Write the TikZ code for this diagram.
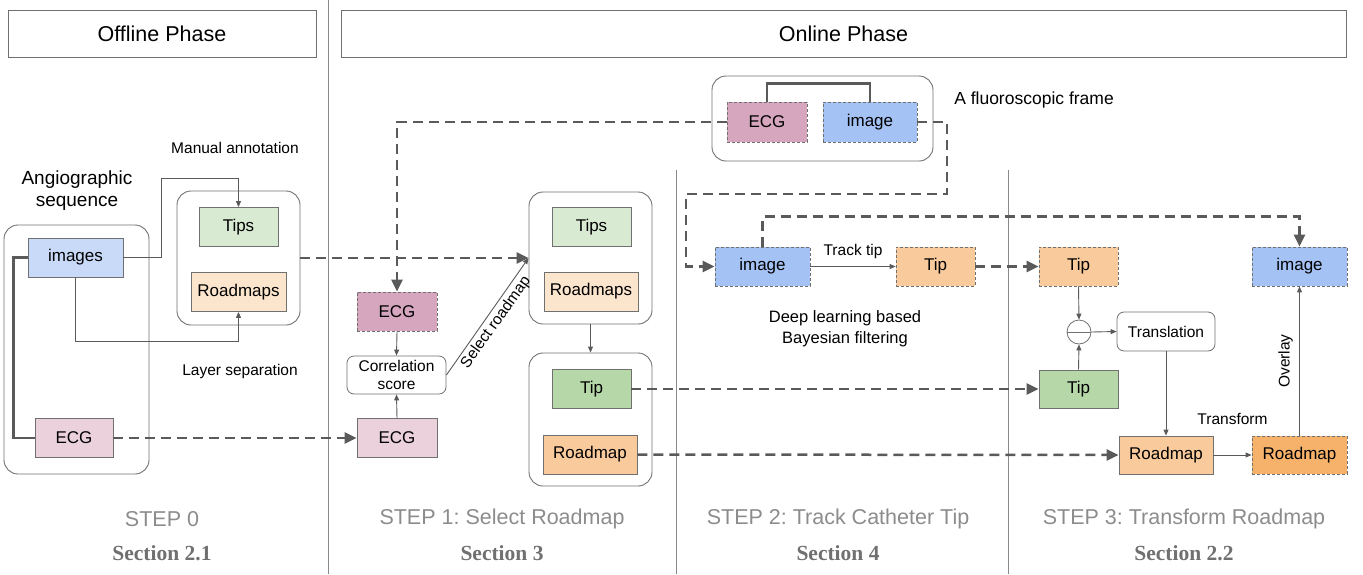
\documentclass[tikz,border=0pt]{standalone}
\usepackage{fontspec}
\setmainfont{Liberation Sans}
\newfontfamily\secfont{Liberation Serif}
\usetikzlibrary{arrows.meta}
\frenchspacing

\definecolor{lineGray}{HTML}{5A5A5A}
\definecolor{boxGray}{HTML}{707070}
\definecolor{sepGray}{HTML}{8A8A8A}
\definecolor{stepGray}{HTML}{8C8C8C}
\definecolor{blueA}{HTML}{C9DAF8}
\definecolor{blueB}{HTML}{A4C2F4}
\definecolor{greenA}{HTML}{D9EAD3}
\definecolor{greenB}{HTML}{B6D7A8}
\definecolor{orangeA}{HTML}{FCE5CD}
\definecolor{orangeB}{HTML}{F9CB9C}
\definecolor{orangeC}{HTML}{F6B26B}
\definecolor{pinkA}{HTML}{EAD1DC}
\definecolor{pinkB}{HTML}{D5A6BD}

\tikzset{
  box/.style={draw=boxGray, line width=0.8pt, minimum height=39, inner sep=0pt,
    font=\fontsize{17}{20}\selectfont},
  dbox/.style={box, dash pattern=on 3pt off 2pt},
  group/.style={draw=boxGray, line width=0.9pt, rounded corners=14, inner sep=0pt},
  header/.style={draw=boxGray, line width=0.9pt, minimum height=47, inner sep=0pt,
    font=\fontsize{21.5}{24}\selectfont},
  lbl/.style={font=\fontsize{15.5}{19}\selectfont, align=center},
  thinarrow/.style={draw=lineGray, line width=0.9pt, -{Triangle[length=6pt,width=5pt]}},
  dasharrow/.style={draw=lineGray, line width=2.5pt, dash pattern=on 10pt off 6pt,
    -{Triangle[length=12pt,width=11pt]}},
  thickline/.style={draw=lineGray, line width=2.5pt},
  steptext/.style={font=\fontsize{21.5}{24}\selectfont, text=stepGray},
  sectext/.style={font=\secfont\bfseries\fontsize{21.5}{24}\selectfont, text=boxGray}
}

\begin{document}
\begin{tikzpicture}[x=1pt, y=-1pt]
  \useasboundingbox (0,0) rectangle (1363,574);

  % phase headers and separators
  \node[header, minimum width=308] (offline) at (162,33.5) {Offline Phase};
  \node[header, minimum width=1005] (online) at (843.5,33.5) {Online Phase};
  \draw[sepGray, line width=0.8pt] (328,0) -- (328,574);
  \draw[sepGray, line width=0.8pt] (676,170) -- (676,574);
  \draw[sepGray, line width=0.8pt] (1008,170) -- (1008,574);

  % step 0
  \node[group, minimum width=145, minimum height=249] (angio) at (76.5,349.5) {};
  \node[font=\fontsize{19}{22}\selectfont, align=center] (angiolbl) at (77,191) {Angiographic\\sequence};
  \node[box, fill=blueA, minimum width=95] (images) at (75.5,257.5) {images};
  \node[box, fill=pinkA, minimum width=78] (ecg0) at (74,438) {ECG};
  \node[group, minimum width=123, minimum height=134] (annot) at (238.5,258) {};
  \node[box, fill=greenA, minimum width=79] (tips0) at (238.5,227) {Tips};
  \node[box, fill=orangeA, minimum width=95] (roads0) at (238.5,292) {Roadmaps};
  \node[lbl] (manual) at (235,148) {Manual annotation};
  \node[lbl] (layer) at (240,371) {Layer separation};

  \draw[thickline] (images.west) -- ++(-14,0) |- (ecg0.west);
  \draw[thinarrow] (images.east) -| (161,178) -| (tips0.north);
  \draw[thinarrow] (images.south) -- ++(0,64) -| (roads0.south);

  % step 1
  \node[dbox, fill=pinkB, minimum width=80] (ecgd) at (397,311.5) {ECG};
  \node[box, fill=white, rounded corners=7, minimum width=99, minimum height=38,
    font=\fontsize{15.5}{18.5}\selectfont, align=center] (corr) at (396.5,375) {Correlation\\score};
  \node[box, fill=pinkA, minimum width=80] (ecg1) at (397,438) {ECG};
  \node[group, minimum width=123, minimum height=132] (select) at (590.5,258) {};
  \node[box, fill=greenA, minimum width=79] (tips1) at (591.5,227) {Tips};
  \node[box, fill=orangeA, minimum width=94] (roads1) at (591,291.5) {Roadmaps};
  \node[group, minimum width=123, minimum height=133] (picked) at (590.5,419.5) {};
  \node[box, fill=greenB, minimum width=79] (tip1) at (591.5,389) {Tip};
  \node[box, fill=orangeB, minimum width=94] (road1) at (590,454.5) {Roadmap};

  \draw[dasharrow] (annot.east) -- (select.west);
  \draw[dasharrow] (ecg0.east) -- (ecg1.west);
  \draw[thinarrow] (ecgd.south) -- (corr.north);
  \draw[thinarrow] (ecg1.north) -- (corr.south);
  \draw[thinarrow] (corr.east) -- node[lbl, pos=0.5, rotate=54.5, anchor=north, inner sep=3pt] {Select roadmap} (select.west);
  \draw[thinarrow] (select.south) -- (picked.north);

  % step 2
  \node[group, minimum width=221, minimum height=85] (frame) at (822.5,118.5) {};
  \node[dbox, fill=pinkB, minimum width=80, minimum height=40] (fecg) at (767,122) {ECG};
  \node[dbox, fill=blueB, minimum width=94, minimum height=40] (fimg) at (870,122) {image};
  \node[font=\fontsize{17.5}{21}\selectfont] (framelbl) at (1034,100) {A fluoroscopic frame};
  \node[dbox, fill=blueB, minimum width=95] (img2) at (762.5,266.5) {image};
  \node[dbox, fill=orangeB, minimum width=79] (tip2) at (935.5,266.5) {Tip};
  \node[font=\fontsize{16.5}{21}\selectfont, align=center] (bayes) at (845,328.5) {Deep learning based\\Bayesian filtering};

  \draw[thickline] (fecg.north) -- ++(0,-18) -| (fimg.north);
  \draw[dasharrow] (fecg.west) -| (ecgd.north);
  \draw[dasharrow] (fimg.east) -- (947,122) -- (947,194) -- (686,194) |- (img2.west);
  \draw[thinarrow] (img2.east) -- node[lbl, midway, above=4pt] {Track tip} (tip2.west);

  % step 3
  \node[dbox, fill=orangeB, minimum width=79] (tip3d) at (1078.5,266.5) {Tip};
  \node[circle, draw=boxGray, line width=0.8pt, minimum size=24, inner sep=0pt] (minus) at (1079,332) {};
  \draw[boxGray, line width=0.8pt] (minus.west) -- (minus.east);
  \node[box, fill=greenB, minimum width=79, minimum height=38] (tip3) at (1078.5,389) {Tip};
  \node[box, fill=white, rounded corners=7, minimum width=98, font=\fontsize{15.5}{18.5}\selectfont] (trans) at (1166,331.5) {Translation};
  \node[box, fill=orangeB, minimum width=94, minimum height=38] (road3) at (1166,455) {Roadmap};
  \node[dbox, fill=orangeC, minimum width=95, minimum height=38] (road3d) at (1299.5,455) {Roadmap};
  \node[dbox, fill=blueB, minimum width=95] (img3) at (1299.5,266.5) {image};

  \draw[dasharrow] (img2.north) -- ++(0,-30) -| (img3.north);
  \draw[dasharrow] (tip2.east) -- (tip3d.west);
  \draw[dasharrow] (tip1.east) -- (tip3.west);
  \draw[dasharrow] (road1.east) -- (road3.west);
  \draw[thinarrow] (tip3d.south) -- (minus.north);
  \draw[thinarrow] (tip3.north) -- (minus.south);
  \draw[thinarrow] (minus.east) -- (trans.west);
  \draw[thinarrow] (trans.south) -- (road3.north);
  \draw[thinarrow] (road3.east) -- node[lbl, midway, above=27pt] {Transform} (road3d.west);
  \draw[thinarrow] (road3d.north) -- node[lbl, midway, rotate=90, above=3pt, anchor=south] {Overlay} (img3.south);

  % steps and sections
  \node[steptext] (step0) at (162,519) {STEP 0};
  \node[steptext] (step1) at (502,519) {STEP 1: Select Roadmap};
  \node[steptext] (step2) at (838,519) {STEP 2: Track Catheter Tip};
  \node[steptext] (step3) at (1184,519) {STEP 3: Transform Roadmap};
  \node[sectext] (sec0) at (162,553) {Section 2.1};
  \node[sectext] (sec1) at (502,553) {Section 3};
  \node[sectext] (sec2) at (838,553) {Section 4};
  \node[sectext] (sec3) at (1184,553) {Section 2.2};
\end{tikzpicture}
\end{document}
